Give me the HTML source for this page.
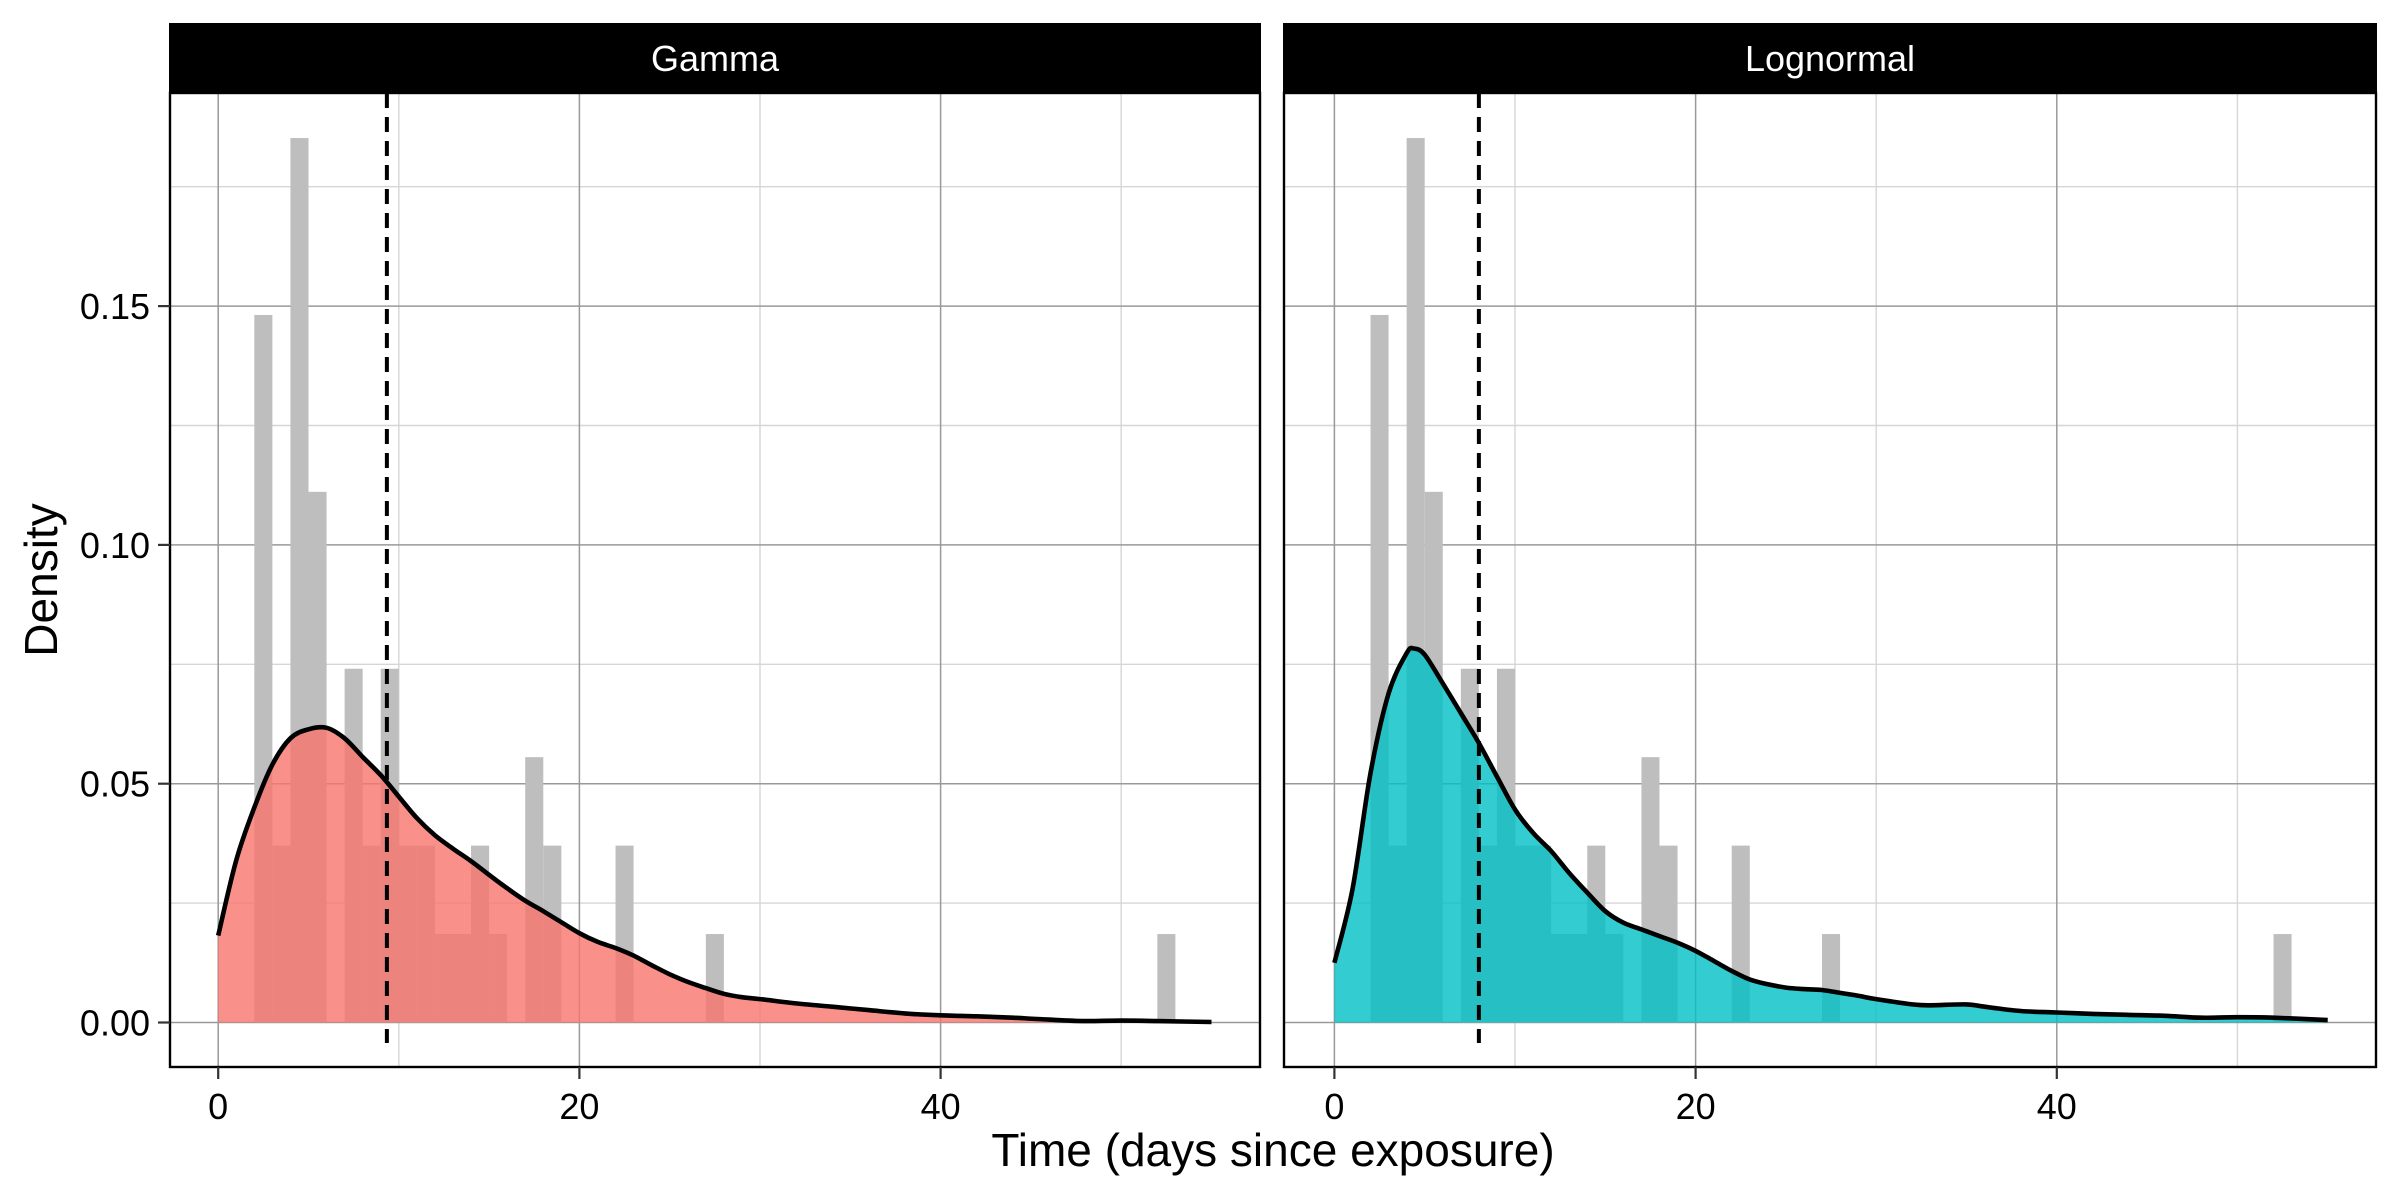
<!DOCTYPE html>
<html><head><meta charset="utf-8"><style>
html,body{margin:0;padding:0;background:#fff;}
svg{display:block;font-family:"Liberation Sans",Arial,sans-serif;}
</style></head><body>
<svg id="chart" width="2400" height="1200" viewBox="0 0 2400 1200" xmlns="http://www.w3.org/2000/svg"></svg>
<script>
// Histogram: integer bins [start, start+1), counts out of 54
const binStarts = [2,3,4,5,7,8,9,10,11,12,13,14,15,17,18,22,27,52];
const binCounts = [8,2,10,6,4,2,4,2,2,1,1,2,1,3,2,2,1,1];
const totalCount = 54;
const gammaX = [0,1,2,3,4,5,6,7,8,9,10,11,12,13,14,15,16,17,18,19,20,21,22,23,24,25,26,27,28,29,30,32,34,36,38,40,42,44,46,48,50,52,55];
const gammaY = [0.0182,0.034,0.045,0.054,0.0595,0.0614,0.0617,0.0595,0.0556,0.0518,0.0473,0.0428,0.0392,0.0364,0.0338,0.0309,0.0281,0.0255,0.0233,0.021,0.0187,0.0169,0.0156,0.014,0.012,0.0101,0.0085,0.0072,0.006,0.0053,0.0049,0.004,0.0033,0.0026,0.0019,0.0015,0.0013,0.001,0.0006,0.0003,0.0004,0.0003,0.0001];
const lognormX = [0,1,2,3,4,4.4,5,6,7,8,9,10,11,12,13,14,15,16,17,18,19,20,21,22,23,24,25,26,27,28,29,30,32,33,35,36,38,40,42,44,46,48,50,52,55];
const lognormY = [0.0125,0.0279,0.0522,0.0689,0.0773,0.0783,0.077,0.071,0.0648,0.0585,0.0515,0.0446,0.0397,0.0359,0.0313,0.0272,0.0233,0.0209,0.0195,0.0181,0.0167,0.015,0.0129,0.0108,0.009,0.008,0.0073,0.007,0.0068,0.0062,0.0056,0.0049,0.0038,0.0036,0.0038,0.0033,0.0024,0.0021,0.0018,0.0016,0.0014,0.001,0.0011,0.001,0.0005];
const meanLines = [9.34, 8.0];
const panelNames = ["Gamma","Lognormal"];
const xTicks = [0,20,40];
const xMinor = [10,30,50];
const yTicks = [0,0.05,0.10,0.15];
const yTickLabels = ["0.00","0.05","0.10","0.15"];
const yMinor = [0.025,0.075,0.125,0.175];

const NS="http://www.w3.org/2000/svg";
const svgRoot=document.getElementById('chart');
function mk(tag,attrs,parent){const e=document.createElementNS(NS,tag);for(const k in attrs)e.setAttribute(k,attrs[k]);(parent||svgRoot).appendChild(e);return e;}

const panels=[{left:170,right:1260,x0:218.2,fill:"#F8766D",key:"gamma",xs:gammaX,ys:gammaY},
              {left:1284,right:2376,x0:1334.4,fill:"#00BFC4",key:"lognormal",xs:lognormX,ys:lognormY}];
const plotTop=93,plotBottom=1067,stripTop=23;
const pxPerUnit=18.06;
function yS(v){return 1022.5-v*4776;}

function smoothPath(pts){
  let d=`M${pts[0][0]},${pts[0][1]}`;
  for(let i=0;i<pts.length-1;i++){
    const p0=pts[Math.max(0,i-1)],p1=pts[i],p2=pts[i+1],p3=pts[Math.min(pts.length-1,i+2)];
    const c1x=p1[0]+(p2[0]-p0[0])/6,c1y=p1[1]+(p2[1]-p0[1])/6;
    const c2x=p2[0]-(p3[0]-p1[0])/6,c2y=p2[1]-(p3[1]-p1[1])/6;
    d+=` C${c1x.toFixed(1)},${c1y.toFixed(1)} ${c2x.toFixed(1)},${c2y.toFixed(1)} ${p2[0].toFixed(1)},${p2[1].toFixed(1)}`;
  }
  return d;
}

panels.forEach((p,pi)=>{
  const xS=v=>p.x0+v*pxPerUnit;
  const g=mk('g',{});
  
  
  yMinor.forEach(v=>{const l=mk('line',{x1:p.left,x2:p.right,y1:yS(v),y2:yS(v),stroke:"#d6d6d6","stroke-width":1.4},g);});
  xMinor.forEach(v=>{const l=mk('line',{x1:xS(v),x2:xS(v),y1:plotTop,y2:plotBottom,stroke:"#d6d6d6","stroke-width":1.4},g);});
  yTicks.forEach(v=>{const l=mk('line',{x1:p.left,x2:p.right,y1:yS(v),y2:yS(v),stroke:"#999","stroke-width":1.5},g);});
  xTicks.forEach(v=>{const l=mk('line',{x1:xS(v),x2:xS(v),y1:plotTop,y2:plotBottom,stroke:"#999","stroke-width":1.5},g);});
  binStarts.forEach((b,i)=>{
    const h=binCounts[i]/totalCount;
    const r=mk('rect',{x:xS(b),y:yS(h),width:pxPerUnit,height:yS(0)-yS(h),fill:"#bebebe"},g);
    
    
  });
  const pts=p.xs.map((x,i)=>[xS(x),yS(p.ys[i])]);
  const line=smoothPath(pts);
  const area=mk('path',{d:line+` L${xS(p.xs[p.xs.length-1])},${yS(0)} L${xS(p.xs[0])},${yS(0)} Z`,fill:p.fill,"fill-opacity":0.8},g);
  
  
  const ln=mk('path',{d:line,fill:"none",stroke:"#000","stroke-width":4.6},g);
  
  
  const ml=mk('line',{x1:xS(meanLines[pi]),x2:xS(meanLines[pi]),y1:plotTop,y2:plotBottom-24,stroke:"#000","stroke-width":4,"stroke-dasharray":"15 9"},g);
  
  
  const bd=mk('rect',{x:p.left,y:plotTop,width:p.right-p.left,height:plotBottom-plotTop,fill:"none",stroke:"#000","stroke-width":2.4},g);
  
  
  const st=mk('rect',{x:p.left-1,y:stripTop,width:p.right-p.left+2,height:plotTop-stripTop,fill:"#000"},g);
  
  
  const stt=mk('text',{x:(p.left+p.right)/2,y:71,fill:"#fff","font-size":36,"text-anchor":"middle"},g);
  stt.textContent=panelNames[pi];
  
  
  xTicks.forEach(v=>{
    const t=mk('line',{x1:xS(v),x2:xS(v),y1:plotBottom,y2:plotBottom+12,stroke:"#333","stroke-width":2.2},g);
    
    
    const tl=mk('text',{x:xS(v),y:plotBottom+52,"font-size":36,"text-anchor":"middle",fill:"#000"},g);
    tl.textContent=String(v);
    
    
  });
  if(pi===0){
    yTicks.forEach((v,i)=>{
      const t=mk('line',{x1:p.left-12,x2:p.left,y1:yS(v),y2:yS(v),stroke:"#333","stroke-width":2.2},g);
      
      
      const tl=mk('text',{x:p.left-20,y:yS(v)+13,"font-size":36,"text-anchor":"end",fill:"#000"},g);
      tl.textContent=yTickLabels[i];
      
      
    });
  }
});
const xt=mk('text',{x:1273,y:1166,"font-size":46,"text-anchor":"middle",fill:"#000"});
xt.textContent="Time (days since exposure)";


const yt=mk('text',{x:0,y:0,"font-size":46,"text-anchor":"middle",fill:"#000",transform:"translate(57,580) rotate(-90)"});
yt.textContent="Density";


</script>
</body></html>
